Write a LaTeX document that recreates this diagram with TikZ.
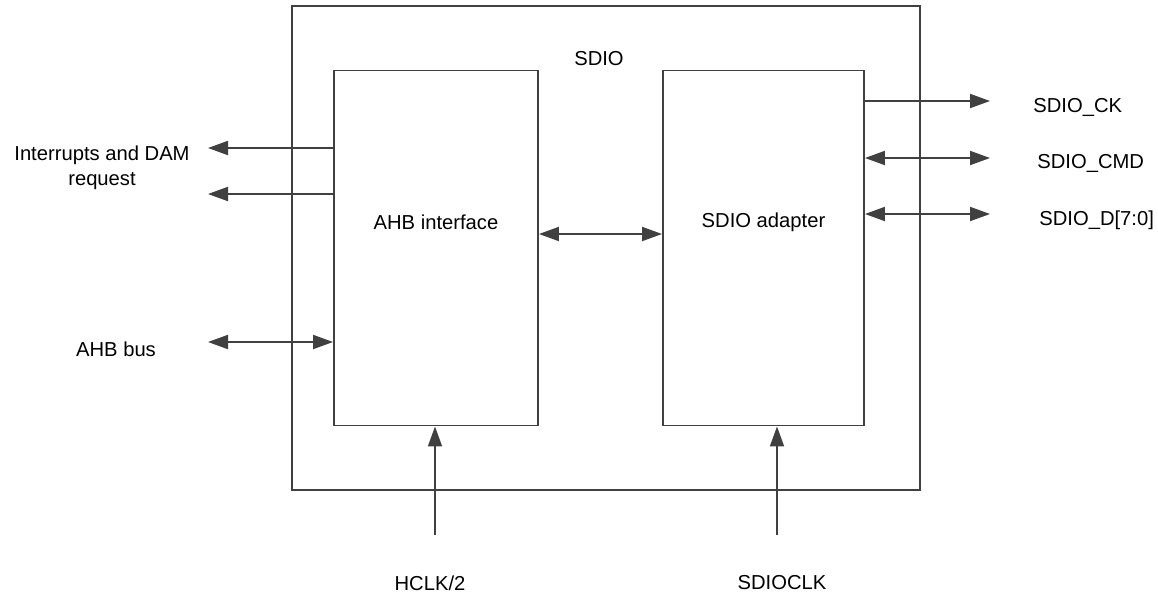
\documentclass[tikz,border=0pt]{standalone}
\usepackage{fontspec}
\setmainfont{Liberation Sans}
\usetikzlibrary{arrows.meta}
\definecolor{wire}{RGB}{64,64,64}

\tikzset{
  blockbox/.style={draw=wire, line width=1.1pt, inner sep=0pt},
  tag/.style={font=\fontsize{11.5}{14}\selectfont, text=black, inner sep=0pt},
  sig/.style={draw=wire, line width=1.1pt, -{Triangle[length=4mm,width=2.8mm]}},
  sigboth/.style={draw=wire, line width=1.1pt, {Triangle[length=4mm,width=2.8mm]}-{Triangle[length=4mm,width=2.8mm]}},
}

\begin{document}
\begin{tikzpicture}[x=0.2mm, y=-0.2mm]
  \useasboundingbox (0,0) rectangle (1158,598);

  % ---------------- the SDIO block ----------------
  \node[blockbox, minimum width=125.6mm, minimum height=96.8mm] (sdio) at (606,248) {};
  \node[tag] (sdiotxt) at (599,59) {SDIO};
  \node[blockbox, minimum width=40.8mm, minimum height=71mm] (ahb) at (436,248) {};
  \node[tag] (ahbtxt) at (436,222) {AHB interface};
  \node[blockbox, minimum width=40.2mm, minimum height=71mm] (adp) at (763.5,248) {};
  \node[tag] (adptxt) at (763.5,222) {SDIO adapter};

  % ---------------- left side ----------------
  \coordinate (irqa) at (208,148);
  \coordinate (irqb) at (208,194);
  \coordinate (bus) at (208,342);
  \draw[sig] (ahb.west |- irqa) -- (irqa);
  \draw[sig] (ahb.west |- irqb) -- (irqb);
  \draw[sigboth] (bus) -- (ahb.west |- bus);
  \node[tag, align=center] (irqtxt) at (102,168) {Interrupts and DAM\\request};
  \node[tag] (bustxt) at (116,349) {AHB bus};

  % ---------------- between the blocks ----------------
  \coordinate (mid) at (600,234);
  \draw[sigboth] (ahb.east |- mid) -- (adp.west |- mid);

  % ---------------- right side ----------------
  \coordinate (ck) at (990,101);
  \coordinate (cmd) at (990,158);
  \coordinate (dat) at (990,214);
  \draw[sig] (adp.east |- ck) -- (ck);
  \draw[sigboth] (adp.east |- cmd) -- (cmd);
  \draw[sigboth] (adp.east |- dat) -- (dat);
  \node[tag, anchor=west] (cktxt) at (1033,107) {SDIO\_CK};
  \node[tag, anchor=west] (cmdtxt) at (1037,163) {SDIO\_CMD};
  \node[tag, anchor=west] (dattxt) at (1039,220) {SDIO\_D[7:0]};

  % ---------------- clocks ----------------
  \coordinate (hclk) at (435,535);
  \coordinate (sdclk) at (777,535);
  \draw[sig] (hclk) -- (ahb.south -| hclk);
  \draw[sig] (sdclk) -- (adp.south -| sdclk);
  \node[tag] (hclktxt) at (430,583) {HCLK/2};
  \node[tag] (sdclktxt) at (782,583) {SDIOCLK};

\end{tikzpicture}
\end{document}
